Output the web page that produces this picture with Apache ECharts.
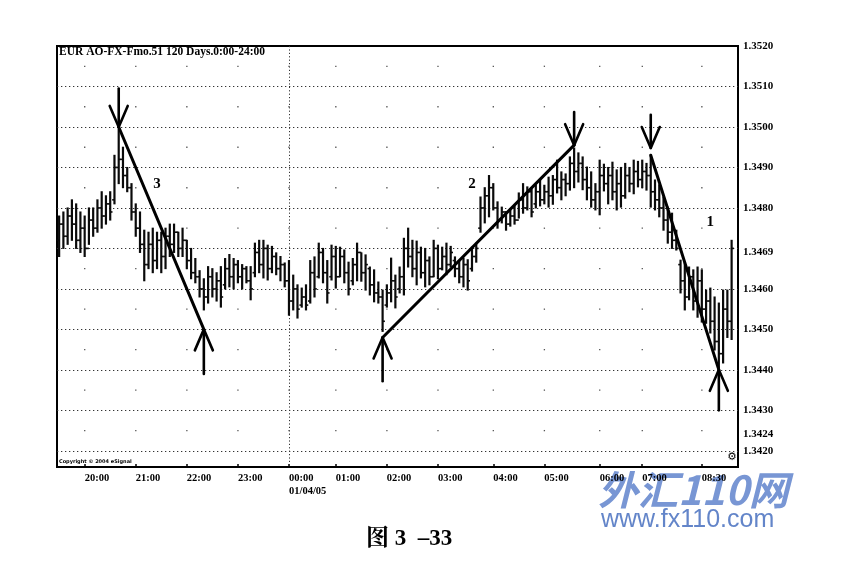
<!DOCTYPE html>
<html><head><meta charset="utf-8">
<script src="https://cdn.jsdelivr.net/npm/echarts@6.0.0/dist/echarts.min.js"></script>
<style>html,body{margin:0;padding:0;background:#fff}#c{width:845px;height:584px}</style>
</head><body><div id="c"></div>
<script>
// ---- data (EUR 5-minute OHLC bars) ----
const opens = [
1.3472,1.3476,1.3473,1.3478,1.3476,1.3472,1.3475,1.3470,1.3477,1.3475,
1.3480,1.3478,1.3481,1.3482,1.3490,1.3492,1.3488,1.3485,1.3479,1.3475,
1.3471,1.3466,1.3471,1.3467,1.3472,1.3468,1.3473,1.3471,1.3474,1.3470,
1.3472,1.3467,1.3464,1.3463,1.3460,1.3458,1.3463,1.3460,1.3462,1.3461,
1.3465,1.3463,1.3466,1.3463,1.3465,1.3462,1.3464,1.3469,1.3466,1.3470,
1.3465,1.3468,1.3465,1.3466,1.3462,1.3457,1.3460,1.3456,1.3458,1.3457,
1.3464,1.3463,1.3469,1.3464,1.3463,1.3468,1.3463,1.3468,1.3464,1.3462,
1.3466,1.3469,1.3464,1.3465,1.3461,1.3459,1.3458,1.3456,1.3459,1.3462,
1.3460,1.3463,1.3470,1.3468,1.3465,1.3469,1.3464,1.3467,1.3463,1.3470,
1.3465,1.3468,1.3466,1.3467,1.3465,1.3463,1.3466,1.3465,1.3468,1.3475,
1.3480,1.3483,1.3485,1.3480,1.3477,1.3479,1.3476,1.3478,1.3477,1.3482,
1.3480,1.3484,1.3481,1.3484,1.3482,1.3484,1.3483,1.3487,1.3485,1.3487,
1.3486,1.3491,1.3489,1.3491,1.3487,1.3485,1.3482,1.3484,1.3488,1.3486,
1.3488,1.3484,1.3486,1.3483,1.3488,1.3486,1.3489,1.3487,1.3489,1.3488,
1.3484,1.3482,1.3480,1.3477,1.3474,1.3472,1.3466,1.3462,1.3458,1.3463,
1.3457,1.3462,1.3455,1.3457,1.3452,1.3447,1.3444,1.3455,1.3452];
const highs = [
1.3478,1.3479,1.3480,1.3482,1.3481,1.3479,1.3478,1.3480,1.3480,1.3482,
1.3484,1.3483,1.3484,1.3493,1.34995,1.3495,1.3490,1.3486,1.3481,1.3479,
1.34745,1.3474,1.3475,1.3474,1.3474,1.3475,1.3476,1.3476,1.3474,1.3475,
1.3472,1.3470,1.34675,1.34645,1.34625,1.34655,1.3465,1.3464,1.34655,1.34675,
1.34685,1.34675,1.3467,1.3466,1.34655,1.34655,1.34713,1.3472,1.3472,1.34708,
1.34705,1.34689,1.3468,1.34664,1.3467,1.34634,1.3461,1.34602,1.3461,1.3467,
1.34679,1.34713,1.3470,1.3467,1.34708,1.34705,1.34703,1.34696,1.34666,1.34675,
1.34713,1.34689,1.34684,1.34654,1.34647,1.34617,1.34597,1.3461,1.34676,1.34634,
1.34654,1.34725,1.3475,1.3472,1.34718,1.34703,1.3470,1.34679,1.3472,1.34708,
1.34703,1.34713,1.34705,1.34679,1.3467,1.34676,1.34672,1.34703,1.34713,1.34827,
1.3485,1.3488,1.3486,1.34815,1.34802,1.3479,1.34795,1.34805,1.34837,1.3486,
1.34852,1.3485,1.34857,1.34869,1.34856,1.34876,1.3488,1.34918,1.34889,1.34884,
1.34926,1.34948,1.34936,1.34926,1.34901,1.34889,1.3486,1.34918,1.34908,1.3490,
1.34913,1.34894,1.3490,1.3491,1.3490,1.34918,1.34915,1.34918,1.3491,1.34931,
1.34869,1.34857,1.34827,1.34802,1.34787,1.34745,1.34671,1.34665,1.34654,1.34647,
1.34654,1.34647,1.34597,1.34602,1.3458,1.34565,1.34597,1.34597,1.3472];
const lows = [
1.3468,1.3470,1.3471,1.3472,1.3470,1.3469,1.3468,1.3471,1.3473,1.3474,
1.3475,1.3476,1.3477,1.3481,1.3486,1.3485,1.3484,1.3477,1.3473,1.3469,
1.3462,1.3465,1.3464,1.3465,1.3464,1.3465,1.3468,1.3469,1.3468,1.3468,
1.3465,1.34625,1.34615,1.3458,1.34548,1.34565,1.3458,1.3457,1.34555,1.3460,
1.34605,1.3460,1.34615,1.3460,1.34615,1.34573,1.3463,1.3464,1.34627,1.34622,
1.3464,1.34635,1.3462,1.34605,1.34535,1.34548,1.34528,1.34555,1.34548,1.34565,
1.3458,1.34627,1.34615,1.34565,1.34622,1.34602,1.3463,1.34615,1.34585,1.3461,
1.3462,1.34619,1.34597,1.34585,1.34568,1.34565,1.34495,1.34555,1.34568,1.34553,
1.3459,1.34585,1.34654,1.3463,1.3461,1.34627,1.34605,1.3461,1.3463,1.34625,
1.34647,1.34635,1.34654,1.3463,1.34615,1.34605,1.34597,1.34644,1.34666,1.3474,
1.34763,1.34778,1.34795,1.3475,1.34763,1.34745,1.34755,1.3476,1.34775,1.34787,
1.34795,1.34778,1.3480,1.34805,1.3481,1.34802,1.34809,1.34837,1.3482,1.3483,
1.34844,1.3485,1.34864,1.34845,1.3482,1.34802,1.34795,1.34783,1.34842,1.3481,
1.3482,1.34795,1.34802,1.34824,1.3484,1.34835,1.34852,1.3485,1.34844,1.34802,
1.34795,1.34778,1.34745,1.34713,1.3470,1.34696,1.3459,1.34548,1.34573,1.34548,
1.3453,1.34518,1.34515,1.34491,1.34449,1.34405,1.34417,1.3448,1.34475];
const closes = [
1.3476,1.3473,1.3478,1.3476,1.3472,1.3475,1.3470,1.3477,1.3475,1.3480,
1.3478,1.3481,1.3479,1.3490,1.3492,1.3488,1.3485,1.3479,1.3475,1.3471,
1.3466,1.3471,1.3467,1.3472,1.3468,1.3473,1.3471,1.3474,1.3470,1.3472,
1.3467,1.3464,1.3463,1.3460,1.3458,1.3463,1.3460,1.3462,1.3458,1.3465,
1.3463,1.3466,1.3463,1.3465,1.3462,1.3460,1.3469,1.3466,1.3470,1.3465,
1.3468,1.3465,1.3466,1.3462,1.3457,1.3460,1.3455,1.3458,1.3456,1.3464,
1.3460,1.3469,1.3464,1.3459,1.3468,1.3463,1.3468,1.3464,1.3460,1.3466,
1.3469,1.3464,1.3466,1.3461,1.3459,1.3458,1.3452,1.3459,1.3462,1.3458,
1.3463,1.3470,1.3468,1.3465,1.3469,1.3464,1.3467,1.3463,1.3470,1.3465,
1.3468,1.3466,1.3469,1.3465,1.3463,1.3466,1.3462,1.3468,1.3470,1.3480,
1.3483,1.3485,1.3480,1.3477,1.3479,1.3476,1.3478,1.3477,1.3482,1.3480,
1.3484,1.3479,1.3484,1.3482,1.3484,1.3483,1.3487,1.3485,1.3487,1.3486,
1.3491,1.3489,1.3491,1.3487,1.3485,1.3482,1.3484,1.3488,1.3486,1.3488,
1.3484,1.3486,1.3483,1.3488,1.3486,1.3489,1.3487,1.3489,1.3488,1.3484,
1.3482,1.3480,1.3477,1.3474,1.3472,1.3470,1.3462,1.3458,1.3463,1.3457,
1.3462,1.3455,1.3457,1.3452,1.3447,1.3444,1.3455,1.3452,1.3470];

const slotCount = 160;                       // bar slots on the time axis
const tickIndex = [6,18,30,42,54,65,77,89,102,114,127,137,151];
const tickText  = ['20:00','21:00','22:00','23:00','00:00\n01/04/05','01:00','02:00','03:00','04:00','05:00','06:00','07:00','08:30'];
const dayBreakIndex = 54;
const yLabels = [1.3420,1.3424,1.3430,1.3440,1.3450,1.3460,1.3469,1.3480,1.3490,1.3500,1.3510,1.3520];
const gridLevels = [1.3420,1.3430,1.3440,1.3450,1.3460,1.3470,1.3480,1.3490,1.3500,1.3510];
const halfLevels = [1.3425,1.3435,1.3445,1.3455,1.3465,1.3475,1.3485,1.3495,1.3505,1.3515];
// trend lines: [fromIndex, fromPrice, toIndex, toPrice]
const trendLines = [[14,1.3500,34,1.3450],[76,1.3448,121,1.34955],[139,1.3493,155,1.3440]];
// arrows: [index, tipPrice, tailPrice]
const arrows = [[14,1.3500,1.35095],[34,1.3450,1.3439],[76,1.3448,1.34372],[121,1.34955,1.35037],[139,1.34948,1.3503],[155,1.3440,1.3430]];
// wave numbers: [index, price, text]
const waveLabels = [[23,1.3486,'3'],[97,1.3486,'2'],[153,1.34765,'1']];

const categories = [];
for (let i = 0; i < slotCount; i++) categories.push(String(i + 1));
const tickMap = {};
tickIndex.forEach((k, j) => tickMap[k] = tickText[j]);

const ohlcData = opens.map((o, i) => [i, o, highs[i], lows[i], closes[i]]);
const dotData = [];
tickIndex.forEach(k => halfLevels.forEach(v => dotData.push([k, v])));

const serif = '"Liberation Serif", "DejaVu Serif", serif';
const chart = echarts.init(document.getElementById('c'), null, {renderer: 'canvas'});
chart.setOption({
  backgroundColor: '#fff',
  animation: false,
  grid: {left: 57, right: 107, top: 46, bottom: 117, show: true, borderColor: '#000', borderWidth: 2, containLabel: false},
  xAxis: {
    type: 'category', data: categories, boundaryGap: true,
    axisLine: {lineStyle: {color: '#000', width: 2}},
    axisTick: {show: true, inside: true, length: 3, interval: (i) => tickMap[i] !== undefined, lineStyle: {color: '#000', width: 1.5}, alignWithLabel: true},
    axisLabel: {
      interval: (i) => tickMap[i] !== undefined,
      formatter: (v, i) => tickMap[i] || '',
      align: 'left', margin: 5, color: '#000', fontFamily: serif, fontWeight: 'bold', fontSize: 10.5, lineHeight: 13
    },
    splitLine: {show: false}
  },
  yAxis: {
    type: 'value', position: 'right', min: 1.3416, max: 1.3520, scale: true,
    axisLine: {show: true, lineStyle: {color: '#000', width: 2}},
    axisTick: {show: false},
    axisLabel: {customValues: yLabels, formatter: (v) => v.toFixed(4), margin: 5, color: '#000', fontFamily: serif, fontWeight: 'bold', fontSize: 11},
    splitLine: {show: false}
  },
  series: [
    { // dotted horizontal grid + day break
      type: 'custom', silent: true, z: 1,
      data: gridLevels.map(v => [0, v]),
      encode: {x: 0, y: 1},
      renderItem: (params, api) => {
        const cs = params.coordSys;
        const y = Math.round(api.coord([0, api.value(1)])[1]) + 0.5;
        const children = [{type: 'line', shape: {x1: cs.x, y1: y, x2: cs.x + cs.width, y2: y},
          style: {stroke: '#333', lineWidth: 1, lineDash: [1.3, 2.7]}}];
        if (params.dataIndex === 0) {
          const x = Math.round(api.coord([dayBreakIndex, 1.35])[0]) + 0.5;
          children.push({type: 'line', shape: {x1: x, y1: cs.y, x2: x, y2: cs.y + cs.height},
            style: {stroke: '#333', lineWidth: 1, lineDash: [1.2, 2.2]}});
        }
        return {type: 'group', children};
      }
    },
    { // sparse dots at half levels
      type: 'custom', silent: true, z: 1,
      data: dotData, encode: {x: 0, y: 1},
      renderItem: (params, api) => {
        const p = api.coord([api.value(0), api.value(1)]);
        return {type: 'rect', shape: {x: p[0] - 0.6, y: p[1] - 0.6, width: 1.3, height: 1.3}, style: {fill: '#555'}};
      }
    },
    { // OHLC bars
      type: 'custom', name: 'EUR', z: 3,
      data: ohlcData, encode: {x: 0, y: [1, 2, 3, 4]},
      renderItem: (params, api) => {
        const i = api.value(0);
        const o = api.coord([i, api.value(1)]);
        const h = api.coord([i, api.value(2)]);
        const l = api.coord([i, api.value(3)]);
        const c = api.coord([i, api.value(4)]);
        const x = h[0];
        return {type: 'group', children: [
          {type: 'line', shape: {x1: x, y1: h[1] - 0.5, x2: x, y2: l[1] + 0.5}, style: {stroke: '#0a0a0a', lineWidth: 2.2}},
          {type: 'line', shape: {x1: x - 2.3, y1: o[1], x2: x, y2: o[1]}, style: {stroke: '#0a0a0a', lineWidth: 1.6}},
          {type: 'line', shape: {x1: x, y1: c[1], x2: x + 2.3, y2: c[1]}, style: {stroke: '#0a0a0a', lineWidth: 1.6}}
        ]};
      }
    },
    { // trend lines
      type: 'custom', silent: true, z: 5,
      data: trendLines, encode: {x: [0, 2], y: [1, 3]},
      renderItem: (params, api) => {
        const a = api.coord([api.value(0), api.value(1)]);
        const b = api.coord([api.value(2), api.value(3)]);
        return {type: 'line', shape: {x1: a[0], y1: a[1], x2: b[0], y2: b[1]}, style: {stroke: '#000', lineWidth: 3, lineCap: 'round'}};
      }
    },
    { // arrows
      type: 'custom', silent: true, z: 6,
      data: arrows, encode: {x: 0, y: [1, 2]},
      renderItem: (params, api) => {
        const tip = api.coord([api.value(0), api.value(1)]);
        const tail = api.coord([api.value(0), api.value(2)]);
        const dir = tail[1] < tip[1] ? -1 : 1;
        const st = {stroke: '#000', lineWidth: 2.6, lineCap: 'round', lineJoin: 'round'};
        return {type: 'group', children: [
          {type: 'line', shape: {x1: tip[0], y1: tip[1], x2: tail[0], y2: tail[1]}, style: st},
          {type: 'polyline', shape: {points: [[tip[0] - 9, tip[1] + dir * 21], [tip[0], tip[1]], [tip[0] + 9, tip[1] + dir * 21]]}, style: {stroke: '#000', lineWidth: 2.6, fill: null, lineCap: 'round', lineJoin: 'round'}}
        ]};
      }
    },
    { // wave numbers
      type: 'custom', silent: true, z: 6,
      data: waveLabels, encode: {x: 0, y: 1},
      renderItem: (params, api) => {
        const p = api.coord([api.value(0), api.value(1)]);
        return {type: 'text', x: p[0], y: p[1], style: {text: waveLabels[params.dataIndex][2], fill: '#000',
          font: 'bold 15px ' + serif, align: 'center', verticalAlign: 'middle'}};
      }
    }
  ],
  graphic: [
    {type: 'text', left: 59, top: 46, z: 10, style: {text: 'EUR AO-FX-Fmo.51 120 Days.0:00-24:00', fill: '#000', font: 'bold 11.5px ' + serif}},
    {type: 'text', left: 59, top: 459, z: 10, style: {text: 'Copyright © 2004 eSignal', fill: '#000', font: 'bold 5px "DejaVu Sans", sans-serif'}},
    {type: 'text', left: 727, top: 452, z: 10, style: {text: '⚙', fill: '#000', font: 'bold 11px "DejaVu Sans", sans-serif'}},
    {type: 'text', left: 598, top: 470, z: -10, style: {text: '外汇110网', fill: '#7896d4', font: 'italic bold 40px "Noto Sans CJK SC", sans-serif'}},
    {type: 'text', left: 601, top: 508, z: -10, style: {text: 'www.fx110.com', fill: '#6385c9', font: '25px "Liberation Sans", Arial, sans-serif'}},
    {type: 'text', left: 366, top: 528, z: 10, style: {text: '图 3  –33', fill: '#000', font: 'bold 23px "Liberation Serif", "Noto Serif CJK SC", "Noto Sans CJK SC", serif'}}
  ]
});
</script></body></html>
